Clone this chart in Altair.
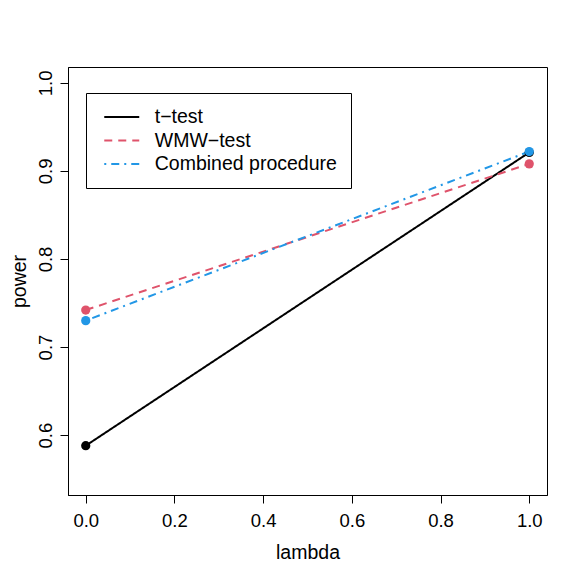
import altair as alt
import pandas as pd

lambdas = [0.0, 1.0]
t_test = [0.588, 0.921]
wmw_test = [0.742, 0.908]
combined = [0.730, 0.922]
methods = ["t−test", "WMW−test", "Combined procedure"]
colors = ["#000000", "#DF536B", "#2297E6"]
dashes = [[1, 0], [8, 6], [2, 5, 8, 5]]
x_ticks = [0.0, 0.2, 0.4, 0.6, 0.8, 1.0]
y_ticks = [0.6, 0.7, 0.8, 0.9, 1.0]

rows = []
for i, (m, vals) in enumerate(zip(methods, [t_test, wmw_test, combined])):
    for xv, yv in zip(lambdas, vals):
        rows.append({"lambda": xv, "power": yv, "method": m, "order": i})
df = pd.DataFrame(rows)

FONT = "Liberation Sans"
FS = 18.5
TFS = 19.5

common_axis = dict(
    grid=False, domainColor="black", tickColor="black", tickSize=8,
    labelColor="black", titleColor="black", labelFont=FONT, titleFont=FONT,
    labelFontSize=FS, titleFontSize=TFS, titleFontWeight="normal",
)

x = alt.X(
    "lambda:Q",
    scale=alt.Scale(domain=[-0.04, 1.04], nice=False, zero=False),
    axis=alt.Axis(values=x_ticks, format=".1f", title="lambda",
                  labelPadding=8, titlePadding=14, **common_axis),
)
y = alt.Y(
    "power:Q",
    scale=alt.Scale(domain=[0.532, 1.018], nice=False, zero=False),
    axis=alt.Axis(values=y_ticks, format=".1f", title="power",
                  labelAngle=270, labelAlign="center", labelBaseline="alphabetic",
                  labelPadding=9, titlePadding=7, **common_axis),
)
color = alt.Color(
    "method:N",
    scale=alt.Scale(domain=methods, range=colors),
    legend=alt.Legend(title=None, orient="none", legendX=18, legendY=26,
                      symbolType="M-2,0H2", symbolSize=306, symbolStrokeWidth=2,
                      symbolOffset=11.75, strokeColor="black", padding=14,
                      rowPadding=3.5, labelOffset=23, labelFont=FONT,
                      labelFontSize=TFS, labelColor="black", fillColor="white",
                      labelLimit=0),
)
dash = alt.StrokeDash(
    "method:N",
    scale=alt.Scale(domain=methods, range=dashes),
    legend=None,
)

lines = alt.Chart(df).mark_line(strokeWidth=2).encode(
    x=x, y=y, color=color, strokeDash=dash, detail="method:N",
    order="lambda:Q",
)
points = alt.Chart(df).mark_point(filled=True, size=85, opacity=1).encode(
    x=x, y=y,
    color=alt.Color("method:N", scale=alt.Scale(domain=methods, range=colors), legend=None),
)

chart = alt.layer(lines, points).properties(
    width=479, height=428,
    padding={"left": 60, "top": 59, "right": 26, "bottom": 78},
    autosize="none",
    background="white",
).configure_view(
    stroke="black", strokeWidth=1,
)

chart.save("out.html", embed_options={"renderer": "svg", "actions": False})
